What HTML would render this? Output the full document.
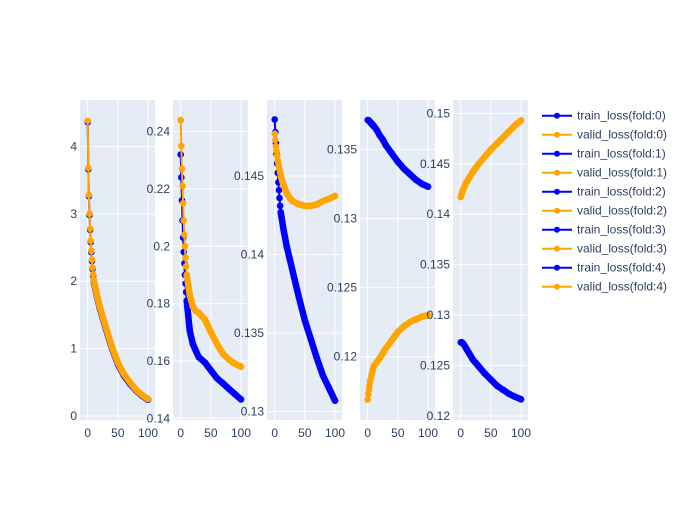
<!DOCTYPE html>
<html><head><meta charset="utf-8"><style>
body{margin:0;background:#fff}
svg text{font-family:"Liberation Sans",sans-serif;fill:#2a3f5f;font-size:12px}
</style></head><body>
<svg id="chart" width="700" height="500" xmlns="http://www.w3.org/2000/svg"></svg>
<script>
const epochs = [0,1,2,3,4,5,6,7,8,9,10,15,20,25,30,40,50,60,70,80,90,100];
const train0 = [4.36,3.66,3.26,2.98,2.76,2.58,2.43,2.30,2.18,2.08,2.00,1.78,1.60,1.45,1.30,1.01,0.77,0.60,0.48,0.38,0.30,0.24];
const valid0 = [4.38,3.68,3.28,3.00,2.78,2.60,2.45,2.32,2.20,2.10,2.02,1.80,1.62,1.47,1.32,1.03,0.79,0.62,0.50,0.39,0.31,0.25];
const train1 = [0.232,0.224,0.216,0.209,0.203,0.198,0.194,0.190,0.187,0.184,0.181,0.1705,0.166,0.1635,0.1613,0.1595,0.1567,0.154,0.1522,0.1503,0.1484,0.1466];
const valid1 = [0.244,0.235,0.227,0.221,0.215,0.209,0.204,0.200,0.196,0.193,0.190,0.183,0.179,0.1775,0.1768,0.1745,0.170,0.166,0.1625,0.1605,0.159,0.158];
const train2 = [0.1486,0.1478,0.1471,0.1464,0.1458,0.1452,0.1446,0.1441,0.1436,0.1431,0.1427,0.1415,0.1405,0.1397,0.1389,0.1373,0.1358,0.1346,0.1334,0.1323,0.1315,0.1307];
const valid2 = [0.1477,0.1473,0.1469,0.1466,0.1463,0.1460,0.1458,0.1456,0.1454,0.1452,0.1450,0.1444,0.1439,0.1436,0.1434,0.1432,0.1431,0.1431,0.1432,0.1434,0.14355,0.14373];
const train3 = [0.13712,0.13712,0.1371,0.1370,0.1370,0.1369,0.1369,0.1368,0.1368,0.1367,0.1367,0.1364,0.1360,0.1357,0.1353,0.1347,0.1341,0.1336,0.1332,0.1328,0.1325,0.1323];
const valid3 = [0.1169,0.1173,0.1176,0.1179,0.1182,0.1184,0.1186,0.1188,0.1190,0.1191,0.1193,0.1196,0.1199,0.12025,0.1206,0.1212,0.1218,0.1222,0.1225,0.1227,0.1229,0.1230];
const train4 = [0.1273,0.1273,0.1273,0.1272,0.1272,0.1271,0.1270,0.1269,0.1268,0.1267,0.1266,0.1261,0.1256,0.12525,0.1249,0.1242,0.1236,0.1230,0.1226,0.1222,0.1219,0.12165];
const valid4 = [0.1417,0.1419,0.1421,0.1423,0.1424,0.1426,0.1427,0.1428,0.1430,0.1431,0.1432,0.1437,0.1442,0.1446,0.1450,0.1457,0.1464,0.1470,0.1476,0.1482,0.1488,0.1493];
const xTicks = [0,50,100];
const yTicks0 = [0,1,2,3,4];
const yTicks1 = [0.14,0.16,0.18,0.2,0.22,0.24];
const yTicks2 = [0.13,0.135,0.14,0.145];
const yTicks3 = [0.12,0.125,0.13,0.135];
const yTicks4 = [0.12,0.125,0.13,0.135,0.14,0.145,0.15];
const yRanges = [[-0.06,4.69],[0.13941,0.25101],[0.12947,0.14984],[0.11542,0.13857],[0.1196,0.15132]];
const seriesNames = ["train_loss(fold:0)","valid_loss(fold:0)","train_loss(fold:1)","valid_loss(fold:1)","train_loss(fold:2)","valid_loss(fold:2)","train_loss(fold:3)","valid_loss(fold:3)","train_loss(fold:4)","valid_loss(fold:4)"];

const NS="http://www.w3.org/2000/svg";
const svg=document.getElementById('chart');
function mk(tag,attrs,parent){const e=document.createElementNS(NS,tag);for(const k in attrs)e.setAttribute(k,attrs[k]);(parent||svg).appendChild(e);return e;}
const lefts=[80,173,267,360,453], W=75, TOP=100, BOT=420;
const panels=[[train0,valid0,yTicks0],[train1,valid1,yTicks1],[train2,valid2,yTicks2],[train3,valid3,yTicks3],[train4,valid4,yTicks4]];
const XR=[-12.8,111.6];
panels.forEach((p,i)=>{
  const L=lefts[i];
  const xs=v=>L+(v-XR[0])/(XR[1]-XR[0])*W;
  const yr=yRanges[i];
  const ys=v=>BOT-(v-yr[0])/(yr[1]-yr[0])*(BOT-TOP);
  const g=mk('g',{});
  
  
  const bg=mk('rect',{x:L,y:TOP,width:W,height:BOT-TOP,fill:'#e5ecf6'},g);
  
  
  xTicks.forEach(t=>{
    mk('line',{x1:xs(t),x2:xs(t),y1:TOP,y2:BOT,stroke:'#fff','stroke-width':1},g);
    const tx=mk('text',{x:xs(t),y:437,'text-anchor':'middle'},g);tx.textContent=t;
    
    
  });
  p[2].forEach(t=>{
    mk('line',{x1:L,x2:L+W,y1:ys(t),y2:ys(t),stroke:'#fff','stroke-width':1},g);
    const tx=mk('text',{x:L-3,y:ys(t)+4,'text-anchor':'end'},g);tx.textContent=String(+t.toFixed(4));
    
    
  });
  [[p[0],'#0000ff','train'],[p[1],'#ffa500','valid']].forEach(([d,c,nm])=>{
    const all=d.map((v,j)=>xs(epochs[j]).toFixed(1)+','+ys(v).toFixed(1));
    const thin=mk('polyline',{points:all.join(' '),fill:'none',stroke:c,'stroke-width':2,'stroke-linejoin':'round'},g);
    
    
    const thick=mk('polyline',{points:all.slice(10).join(' '),fill:'none',stroke:c,'stroke-width':6.5,'stroke-linecap':'round','stroke-linejoin':'round'},g);
    
    
    d.forEach((v,j)=>{
      const m=mk('circle',{cx:xs(epochs[j]),cy:ys(v),r:3.3,fill:c},g);
      
      
    });
  });
});
seriesNames.forEach((n,k)=>{
  const y=115.7+k*19, c=k%2?'#ffa500':'#0000ff';
  const g=mk('g',{});
  
  
  mk('line',{x1:542,x2:572,y1:y,y2:y,stroke:c,'stroke-width':2},g);
  mk('circle',{cx:557,cy:y,r:3,fill:c},g);
  const t=mk('text',{x:577,y:y+4},g);t.textContent=n;
});
</script>
</body></html>
